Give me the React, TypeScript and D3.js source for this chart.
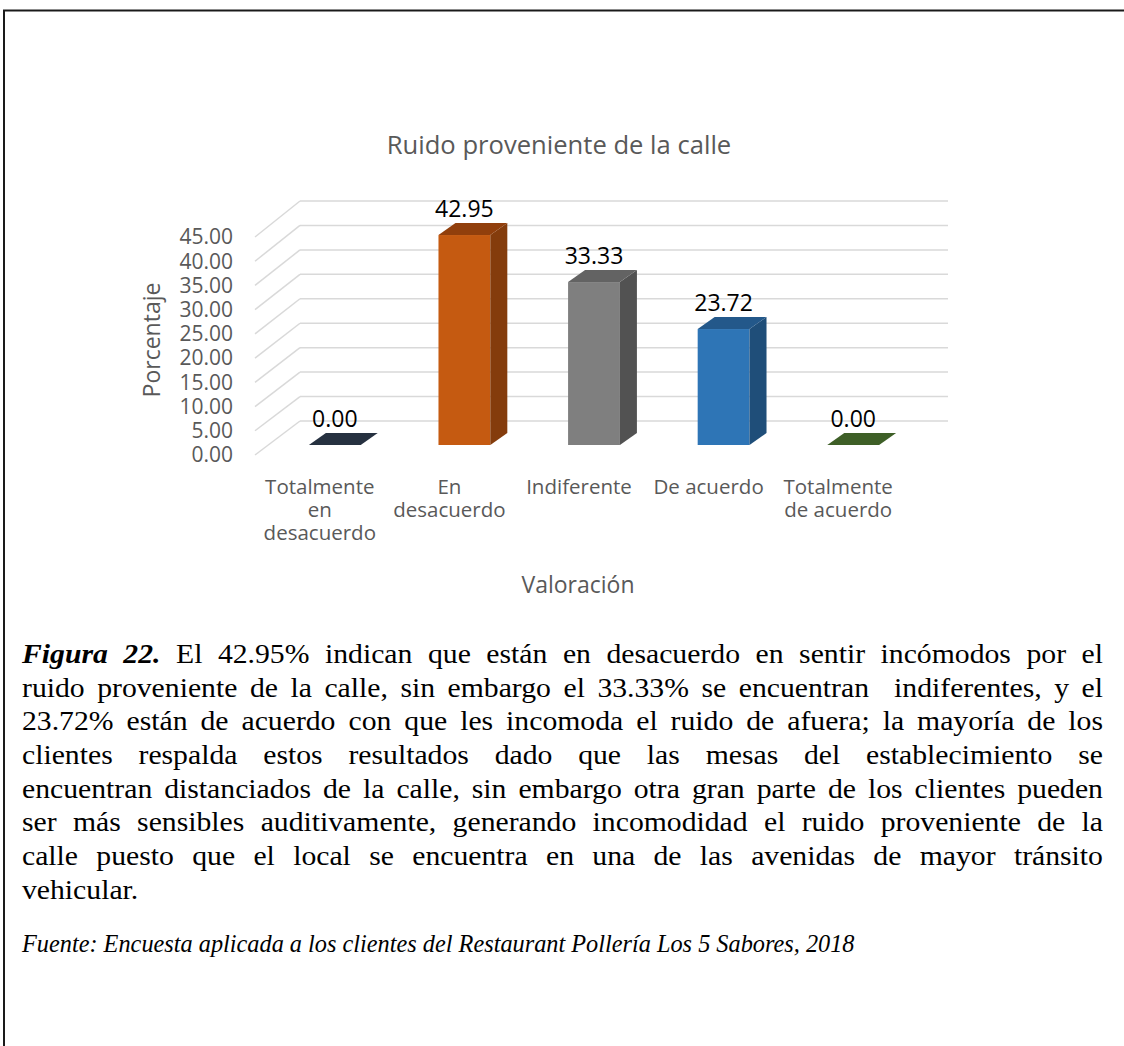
import React, { useMemo } from "react";
import * as d3 from "d3";

const chartTitle = "Ruido proveniente de la calle";
const yAxisTitle = "Porcentaje";
const xAxisTitle = "Valoración";
const categories = ["Totalmente en desacuerdo", "En desacuerdo", "Indiferente", "De acuerdo", "Totalmente de acuerdo"];
const categoryLabelLines = [["Totalmente", "en", "desacuerdo"], ["En", "desacuerdo"], ["Indiferente"], ["De acuerdo"], ["Totalmente", "de acuerdo"]];
const values = [0.0, 42.95, 33.33, 23.72, 0.0];
const yTicks = [0, 5, 10, 15, 20, 25, 30, 35, 40, 45];
const frontColors = ["#2a3544", "#c55a11", "#7f7f7f", "#2e75b6", "#3f6128"];
const sideColors = ["#1f2833", "#843c0c", "#525252", "#1f4e79", "#2e4a1c"];
const topColors = ["#263140", "#913f0c", "#636363", "#23588a", "#3e5f27"];

const captionLines = [
  "El 42.95% indican que están en desacuerdo en sentir incómodos por el",
  "ruido proveniente de la calle, sin embargo el 33.33% se encuentran  indiferentes, y el",
  "23.72% están de acuerdo con que les incomoda el ruido de afuera; la mayoría de los",
  "clientes respalda estos resultados dado que las mesas del establecimiento se",
  "encuentran distanciados de la calle, sin embargo otra gran parte de los clientes pueden",
  "ser más sensibles auditivamente, generando incomodidad el ruido proveniente de la",
  "calle puesto que el local se encuentra en una de las avenidas de mayor tránsito",
  "vehicular.",
];
const sourceText = "Fuente: Encuesta aplicada a los clientes del Restaurant Pollería Los 5 Sabores, 2018";

const W = 1124;
const H = 1046;
const SANS = "'Open Sans', sans-serif";
const SERIF = "'Liberation Serif', 'Times New Roman', serif";
const CAP_SIZE = 27;
const CAP_LEFT = 22;
const CAP_RIGHT = 1103;
const CAP_SX = 1.1;

let ctx: CanvasRenderingContext2D | null = null;
function measure(text: string, font: string) {
  if (!ctx) ctx = document.createElement("canvas").getContext("2d");
  if (!ctx) return text.length * 10;
  ctx.font = font;
  return ctx.measureText(text).width;
}

export default function App() {
  const backLeft = 300, backRight = 948;
  const yBack = d3.scaleLinear().domain([0, 45]).range([421, 201]);
  const yFront = d3.scaleLinear().domain([0, 45]).range([455, 237]);
  const frontDx = -45;
  const barDx = -30;
  const yBar = d3.scaleLinear().domain([0, 45]).range([445, 225]);
  const depthDx = 17, depthDy = -12;

  const xBar = d3.scaleBand<string>().domain(categories).range([backLeft + barDx, backRight + barDx]).paddingInner(0.6).paddingOuter(0.3);
  const xLabel = d3.scaleBand<string>().domain(categories).range([backLeft + frontDx, backRight + frontDx]);

  const captionWords = useMemo(() => {
    const fontN = `${CAP_SIZE}px ${SERIF}`;
    const fontBI = `italic bold ${CAP_SIZE}px ${SERIF}`;
    const target = (CAP_RIGHT - CAP_LEFT) / CAP_SX;
    return captionLines.map((line, li) => {
      const tokens: { t: string; bi: boolean; w: number }[] = [];
      if (li === 0) {
        tokens.push({ t: "Figura", bi: true, w: measure("Figura", fontBI) });
        tokens.push({ t: "22.", bi: true, w: measure("22.", fontBI) });
      }
      line.split(" ").forEach((t) => tokens.push({ t, bi: false, w: measure(t, fontN) }));
      const justify = li < captionLines.length - 1;
      const total = tokens.reduce((s, k) => s + k.w, 0);
      const space = measure(" ", fontN);
      const gap = justify ? Math.max(space * 0.5, (target - total) / (tokens.length - 1)) : space;
      let x = 0;
      return tokens.map((k) => {
        const out = { ...k, x };
        x += k.w + gap;
        return out;
      });
    });
  }, []);

  return (
    <svg width={W} height={H} style={{ position: "absolute", left: 0, top: 0, background: "#fff" }}>
      <rect x={0} y={0} width={W} height={H} fill="#fff" />
      <path d={`M4,${H} V10.5 H${W}`} fill="none" stroke="#1a1a1a" strokeWidth={2} />

      <text x={559} y={154} textAnchor="middle" fontFamily={SANS} fontSize={25.6} fill="#595959">{chartTitle}</text>

      {yTicks.map((v) => (
        <g key={v}>
          <line x1={backLeft} x2={backRight} y1={yBack(v)} y2={yBack(v)} stroke="#d9d9d9" strokeWidth={1.5} />
          <line x1={backLeft} x2={backLeft + frontDx} y1={yBack(v)} y2={yFront(v)} stroke="#d9d9d9" strokeWidth={1.5} />
          <text x={233} y={yFront(v)} dy="0.35em" textAnchor="end" fontFamily={SANS} fontSize={21} fill="#595959">{v.toFixed(2)}</text>
        </g>
      ))}

      <text transform={`translate(160,340) rotate(-90)`} textAnchor="middle" fontFamily={SANS} fontSize={23} fill="#595959">{yAxisTitle}</text>

      {categories.map((c, i) => {
        const x0 = xBar(c)!;
        const w = xBar.bandwidth();
        const yb = yBar(0);
        const yt = yBar(values[i]);
        const side = `M${x0 + w},${yb} L${x0 + w + depthDx},${yb + depthDy} L${x0 + w + depthDx},${yt + depthDy} L${x0 + w},${yt} Z`;
        const top = `M${x0},${yt} L${x0 + depthDx},${yt + depthDy} L${x0 + w + depthDx},${yt + depthDy} L${x0 + w},${yt} Z`;
        return (
          <g key={c}>
            {values[i] > 0 && <rect x={x0} y={yt} width={w} height={yb - yt} fill={frontColors[i]} />}
            {values[i] > 0 && <path d={side} fill={sideColors[i]} />}
            <path d={top} fill={topColors[i]} />
            <text x={x0 + w / 2} y={yt + depthDy - 6} textAnchor="middle" fontFamily={SANS} fontSize={23} fill="#000">{values[i].toFixed(2)}</text>
          </g>
        );
      })}

      {categories.map((c, i) => (
        <text key={c} x={xLabel(c)! + xLabel.bandwidth() / 2} y={494} textAnchor="middle" fontFamily={SANS} fontSize={20.5} fill="#595959">
          {categoryLabelLines[i].map((l, j) => (
            <tspan key={j} x={xLabel(c)! + xLabel.bandwidth() / 2} dy={j === 0 ? 0 : 22.8}>{l}</tspan>
          ))}
        </text>
      ))}

      <text x={578} y={593} textAnchor="middle" fontFamily={SANS} fontSize={23} fill="#595959">{xAxisTitle}</text>

      <g transform={`translate(${CAP_LEFT},0) scale(${CAP_SX},1)`}>
        {captionWords.map((line, li) => (
          <g key={li}>
            {line.map((k, ki) => (
              <text key={ki} x={k.x} y={663 + li * 33.7} fontFamily={SERIF} fontSize={CAP_SIZE} fontStyle={k.bi ? "italic" : "normal"} fontWeight={k.bi ? "bold" : "normal"} fill="#000">{k.t}</text>
            ))}
          </g>
        ))}
      </g>
      <text x={CAP_LEFT} y={952} fontFamily={SERIF} fontSize={24.3} fontStyle="italic" fill="#000">{sourceText}</text>
    </svg>
  );
}
